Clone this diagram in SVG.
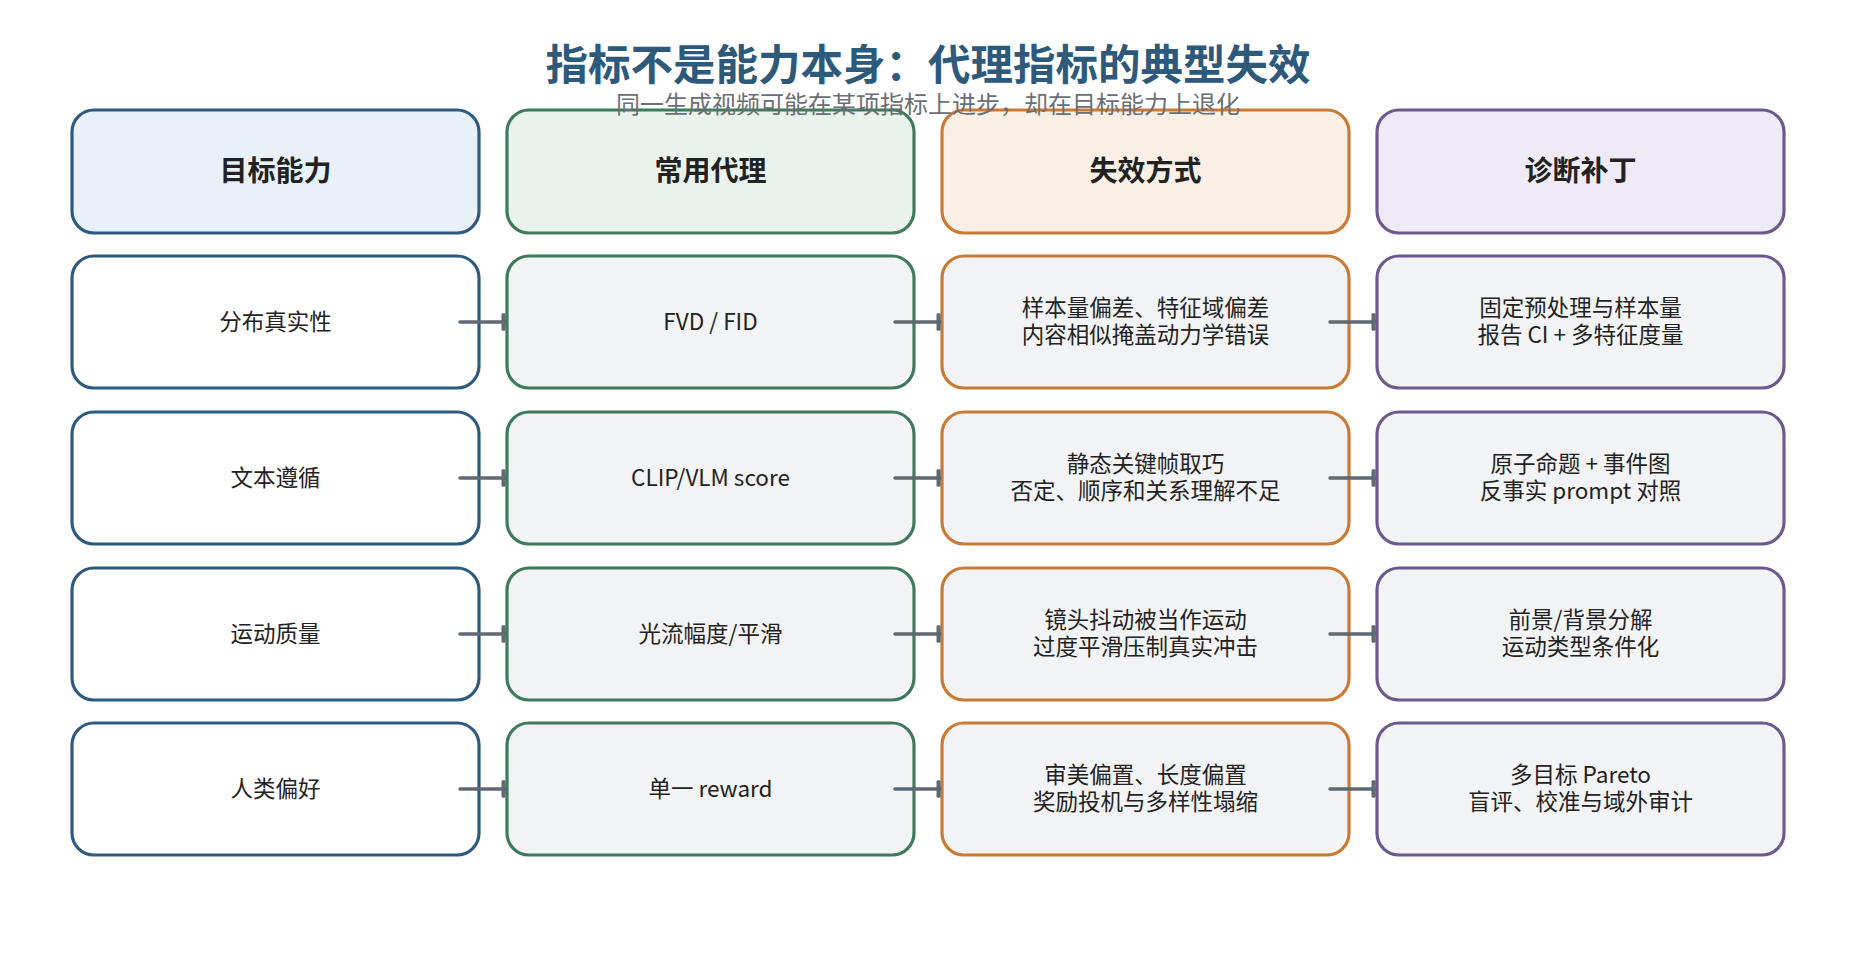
<svg xmlns="http://www.w3.org/2000/svg" width="1856" height="957" viewBox="0 0 1856 957">
<defs>
<style>
text{font-family:"Noto Sans CJK SC","Noto Sans",sans-serif;text-anchor:middle;dominant-baseline:central;fill:#222}
.title{font-size:42.5px;font-weight:700;fill:#2d5a7b;dominant-baseline:alphabetic}
.sub{font-size:24px;fill:#6b6f75;dominant-baseline:alphabetic}
.hd{font-size:28px;font-weight:700}
.cell{font-size:22.5px}
rect{stroke-width:3.2}
.c1{stroke:#2f5a7f}
.c2{stroke:#3f7b5b}
.c3{stroke:#c97a35}
.c4{stroke:#6d5a8d}
.h1{fill:#e9f1f8}
.h2{fill:#e9f3ec}
.h3{fill:#faefe4}
.h4{fill:#efebf6}
.w{fill:#ffffff}
.g{fill:#f2f3f5}
.edge{stroke:#5f6972;stroke-width:3.5;stroke-linecap:round;fill:none}
</style>
<marker id="tab" markerWidth="4" markerHeight="5" refX="3" refY="2.5" orient="auto" markerUnits="strokeWidth">
<rect x="2" y="0" width="1.2" height="5" rx="0.4" fill="#5f6972" stroke="none"/>
</marker>
</defs>
<rect x="0" y="0" width="1856" height="957" fill="#ffffff"/>
<g id="title">
<text class="title" x="928" y="80">指标不是能力本身：代理指标的典型失效</text>
</g>
<g id="header-target"><rect class="c1 h1" x="72" y="110" width="407" height="123" rx="22"/><text class="hd" x="275.5" y="169">目标能力</text></g>
<g id="header-proxy"><rect class="c2 h2" x="507" y="110" width="407" height="123" rx="22"/><text class="hd" x="710.5" y="169">常用代理</text></g>
<g id="header-failure"><rect class="c3 h3" x="942" y="110" width="407" height="123" rx="22"/><text class="hd" x="1145.5" y="169">失效方式</text></g>
<g id="header-patch"><rect class="c4 h4" x="1377" y="110" width="407" height="123" rx="22"/><text class="hd" x="1580.5" y="169">诊断补丁</text></g>

<g id="r1-target"><rect class="c1 w" x="72" y="256" width="407" height="132" rx="22"/><text class="cell" x="275.5" y="319.5">分布真实性</text></g>
<g id="r1-proxy"><rect class="c2 g" x="507" y="256" width="407" height="132" rx="22"/><text class="cell" x="710.5" y="319.5">FVD / FID</text></g>
<g id="r1-failure"><rect class="c3 g" x="942" y="256" width="407" height="132" rx="22"/><text class="cell" x="1145.5" y="306">样本量偏差、特征域偏差</text><text class="cell" x="1145.5" y="333">内容相似掩盖动力学错误</text></g>
<g id="r1-patch"><rect class="c4 g" x="1377" y="256" width="407" height="132" rx="22"/><text class="cell" x="1580.5" y="306">固定预处理与样本量</text><text class="cell" x="1580.5" y="333">报告 CI + 多特征度量</text></g>

<g id="r2-target"><rect class="c1 w" x="72" y="412" width="407" height="132" rx="22"/><text class="cell" x="275.5" y="475.5">文本遵循</text></g>
<g id="r2-proxy"><rect class="c2 g" x="507" y="412" width="407" height="132" rx="22"/><text class="cell" x="710.5" y="475.5">CLIP/VLM score</text></g>
<g id="r2-failure"><rect class="c3 g" x="942" y="412" width="407" height="132" rx="22"/><text class="cell" x="1145.5" y="462">静态关键帧取巧</text><text class="cell" x="1145.5" y="489">否定、顺序和关系理解不足</text></g>
<g id="r2-patch"><rect class="c4 g" x="1377" y="412" width="407" height="132" rx="22"/><text class="cell" x="1580.5" y="462">原子命题 + 事件图</text><text class="cell" x="1580.5" y="489">反事实 prompt 对照</text></g>

<g id="r3-target"><rect class="c1 w" x="72" y="568" width="407" height="132" rx="22"/><text class="cell" x="275.5" y="631.5">运动质量</text></g>
<g id="r3-proxy"><rect class="c2 g" x="507" y="568" width="407" height="132" rx="22"/><text class="cell" x="710.5" y="631.5">光流幅度/平滑</text></g>
<g id="r3-failure"><rect class="c3 g" x="942" y="568" width="407" height="132" rx="22"/><text class="cell" x="1145.5" y="618">镜头抖动被当作运动</text><text class="cell" x="1145.5" y="645">过度平滑压制真实冲击</text></g>
<g id="r3-patch"><rect class="c4 g" x="1377" y="568" width="407" height="132" rx="22"/><text class="cell" x="1580.5" y="618">前景/背景分解</text><text class="cell" x="1580.5" y="645">运动类型条件化</text></g>

<g id="r4-target"><rect class="c1 w" x="72" y="723" width="407" height="132" rx="22"/><text class="cell" x="275.5" y="786.5">人类偏好</text></g>
<g id="r4-proxy"><rect class="c2 g" x="507" y="723" width="407" height="132" rx="22"/><text class="cell" x="710.5" y="786.5">单一 reward</text></g>
<g id="r4-failure"><rect class="c3 g" x="942" y="723" width="407" height="132" rx="22"/><text class="cell" x="1145.5" y="773">审美偏置、长度偏置</text><text class="cell" x="1145.5" y="800">奖励投机与多样性塌缩</text></g>
<g id="r4-patch"><rect class="c4 g" x="1377" y="723" width="407" height="132" rx="22"/><text class="cell" x="1580.5" y="773">多目标 Pareto</text><text class="cell" x="1580.5" y="800">盲评、校准与域外审计</text></g>

<g id="connectors">
<path class="edge" marker-end="url(#tab)" d="M460 322H505"/>
<path class="edge" marker-end="url(#tab)" d="M895 322H940"/>
<path class="edge" marker-end="url(#tab)" d="M1330 322H1375"/>
<path class="edge" marker-end="url(#tab)" d="M460 478H505"/>
<path class="edge" marker-end="url(#tab)" d="M895 478H940"/>
<path class="edge" marker-end="url(#tab)" d="M1330 478H1375"/>
<path class="edge" marker-end="url(#tab)" d="M460 634H505"/>
<path class="edge" marker-end="url(#tab)" d="M895 634H940"/>
<path class="edge" marker-end="url(#tab)" d="M1330 634H1375"/>
<path class="edge" marker-end="url(#tab)" d="M460 789H505"/>
<path class="edge" marker-end="url(#tab)" d="M895 789H940"/>
<path class="edge" marker-end="url(#tab)" d="M1330 789H1375"/>
</g>
<g id="subtitle">
<text class="sub" x="928" y="113">同一生成视频可能在某项指标上进步，却在目标能力上退化</text>
</g>
</svg>
